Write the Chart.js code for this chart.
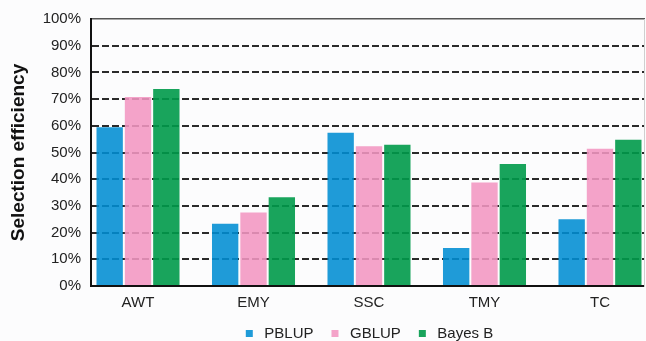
<!DOCTYPE html>
<html lang="en">
<head>
  <meta charset="UTF-8">
  <title>Selection efficiency</title>
  <script src="https://cdn.jsdelivr.net/npm/chart.js"></script>
  <style>
    html, body {
      margin: 0;
      padding: 0;
      background-color: #fcfcfd;
      overflow: hidden;
    }
    #chartBox {
      width: 646px;
      height: 341px;
    }
  </style>
</head>
<body>
  <div id="chartBox">
    <canvas id="effChart"></canvas>
  </div>

  <script>
    // traits and selection efficiency (%) per model
    const traits = ["AWT", "EMY", "SSC", "TMY", "TC"];
    const pblup = [59.5, 23.3, 57.4, 14.2, 25.0];
    const gblup = [70.8, 27.5, 52.3, 38.8, 51.4];
    const bayesB = [73.8, 33.2, 52.9, 45.7, 54.8];
    const yTicks = [0, 10, 20, 30, 40, 50, 60, 70, 80, 90, 100];

    const fontFamily = "'Liberation Sans', Arial, sans-serif";

    // bars sit on a linear x axis so the groups can be placed off-centre
    const toPoints = arr => arr.map((v, i) => ({ x: i, y: v }));

    const ctx = document.getElementById("effChart").getContext("2d");
    const effChart = new Chart(ctx, {
      type: "bar",
      data: {
        datasets: [
          { label: "PBLUP", data: toPoints(pblup), backgroundColor: "rgba(0,141,211,0.88)" },
          { label: "GBLUP", data: toPoints(gblup), backgroundColor: "rgba(242,150,193,0.88)" },
          { label: "Bayes B", data: toPoints(bayesB), backgroundColor: "rgba(0,154,74,0.9)" }
        ]
      },
      options: {
        responsive: true,
        maintainAspectRatio: false,
        animation: false,
        categoryPercentage: 0.736,
        barPercentage: 0.93,
        layout: {
          padding: { top: 18, right: 2, bottom: -10, left: 0 }
        },
        plugins: {
          tooltip: { enabled: false },
          legend: {
            position: "bottom",
            fullSize: false,
            labels: {
              usePointStyle: true,
              pointStyle: "rect",
              boxWidth: 15,
              boxHeight: 7,
              padding: 14,
              color: "#222",
              font: { family: fontFamily, size: 15 }
            }
          }
        },
        scales: {
          x: {
            type: "linear",
            position: "bottom",
            offset: false,
            min: -0.407,
            max: 4.381,
            afterBuildTicks: s => { s.ticks = traits.map((_, i) => ({ value: i })); },
            afterFit: s => { s.height = 26; },
            grid: { display: false, drawTicks: false },
            border: { color: "#111", width: 2 },
            ticks: {
              padding: 8,
              color: "#222",
              font: { family: fontFamily, size: 15 },
              callback: v => traits[v]
            }
          },
          xTop: {
            type: "linear",
            position: "top",
            display: true,
            grid: { display: false, drawTicks: false },
            ticks: { display: false },
            border: { color: "#555", width: 1.5 }
          },
          y: {
            min: 0,
            max: 100,
            afterBuildTicks: s => { s.ticks = yTicks.map(v => ({ value: v })); },
            afterFit: s => { s.width = 91; },
            grid: {
              drawTicks: false,
              lineWidth: 2,
              color: c => (c.tick.value === 0 || c.tick.value === 100) ? "transparent" : "#2a2a2a"
            },
            border: { color: "#111", width: 2, dash: [7, 3] },
            ticks: {
              padding: 10,
              color: "#222",
              font: { family: fontFamily, size: 15 },
              callback: v => v + "%"
            },
            title: {
              display: true,
              text: "Selection efficiency",
              color: "#111",
              padding: { top: 7, bottom: 0 },
              font: { family: fontFamily, size: 19, weight: "bold" }
            }
          },
          yRight: {
            type: "linear",
            position: "right",
            display: true,
            grid: { display: false, drawTicks: false },
            ticks: { display: false },
            border: { color: "#cfcfcf", width: 1 }
          }
        }
      }
    });
  </script>
</body>
</html>
